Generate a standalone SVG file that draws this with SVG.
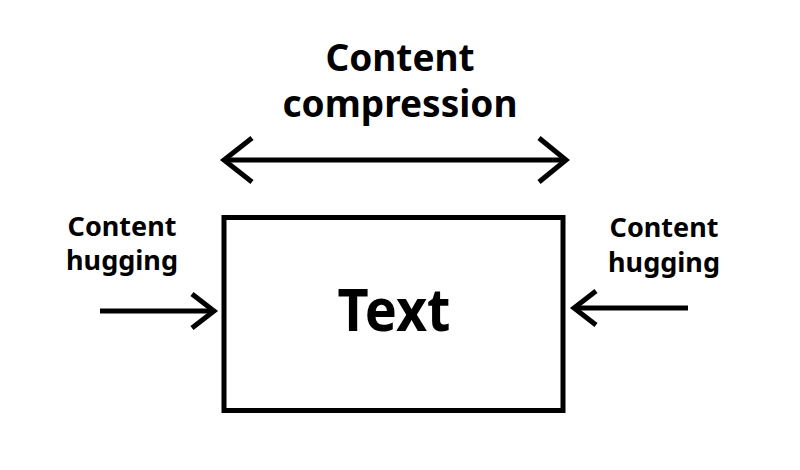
<svg xmlns="http://www.w3.org/2000/svg" width="800" height="470" viewBox="0 0 800 470">
<style>
.t{font-family:"Noto Sans","Open Sans","DejaVu Sans",sans-serif;font-weight:bold;fill:#000;text-anchor:middle}
.c{stroke:#000;stroke-width:5;fill:none;stroke-linecap:butt;stroke-linejoin:miter}
</style>
<rect width="800" height="470" fill="#fff"/>
<g id="title">
<text class="t" x="400" y="71" font-size="37">Content</text>
<text class="t" x="400" y="117" font-size="37">compression</text>
</g>
<g id="box">
<rect x="224" y="217.5" width="339" height="193" fill="#fff" stroke="#000" stroke-width="5"/>
<text class="t" x="394" y="331" font-size="60" textLength="113" lengthAdjust="spacingAndGlyphs">Text</text>
</g>
<g id="label-left">
<text class="t" x="122" y="236" font-size="27">Content</text>
<text class="t" x="122" y="270" font-size="27">hugging</text>
</g>
<g id="label-right">
<text class="t" x="664" y="237" font-size="27">Content</text>
<text class="t" x="664" y="272" font-size="27">hugging</text>
</g>
<g id="connectors">
<path class="c" d="M224 160H566"/>
<path class="c" d="M252 138L224 160L252 182"/>
<path class="c" d="M539 138L566 160L539 182"/>
<path class="c" d="M100 311H214"/>
<path class="c" d="M192 294L214 311L192 328"/>
<path class="c" d="M688 308H574"/>
<path class="c" d="M596 291L574 308L596 325"/>
</g>
</svg>
